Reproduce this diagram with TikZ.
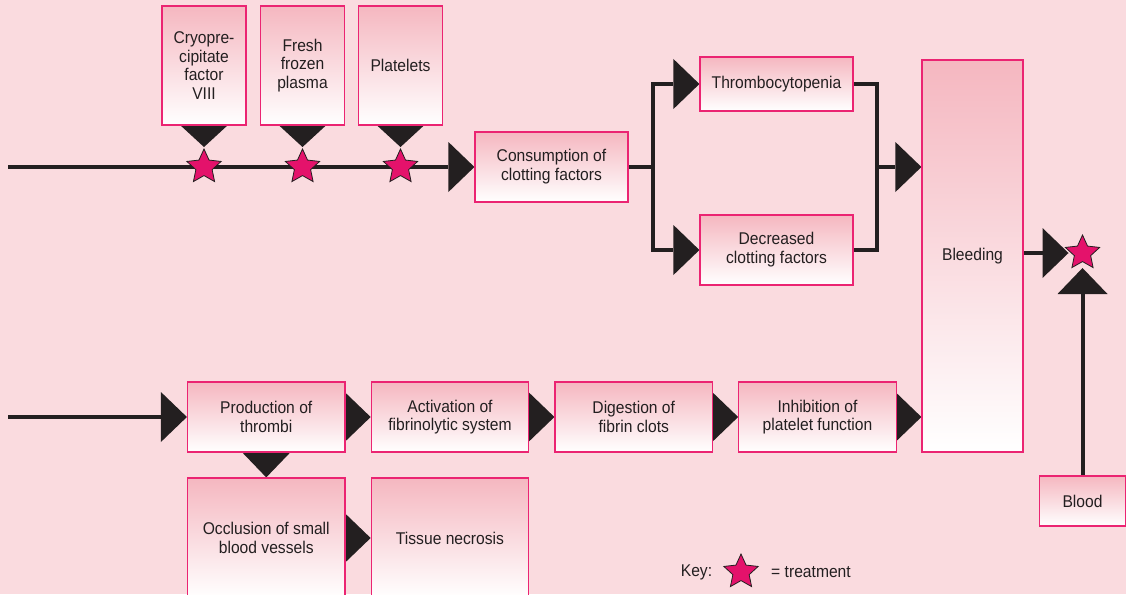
\documentclass[tikz,border=0pt]{standalone}
\usepackage{fontspec}
\setmainfont[FakeStretch=0.92]{Liberation Sans}
\usepackage{xcolor}
\usetikzlibrary{arrows.meta, shapes.geometric, calc, backgrounds}

\definecolor{bgpink}{HTML}{FADBDF}
\definecolor{boxtop}{HTML}{F5B7C0}
\definecolor{boxline}{HTML}{EB2472}
\definecolor{starred}{HTML}{E4126B}
\definecolor{ink}{HTML}{231F20}

\tikzset{box/.style={draw=boxline, line width=1.2pt, top color=boxtop, bottom color=white, align=center, inner sep=0pt},
flow/.style={draw=ink, line width=4pt},
%big black triangles at the end of each connector
flowtip/.style={flow, -{Triangle[length=26pt, width=50pt, line width=0pt]}},
droptip/.style={flow, -{Triangle[length=23pt, width=50pt, line width=0pt]}},
treat/.style={star, star points=5, star point ratio=2.1, minimum size=36pt, inner sep=0pt, fill=starred, draw=ink, line width=0.8pt}}

\begin{document}
\begin{tikzpicture}[x=1pt, y=-1pt, text=ink, font=\fontsize{17}{18.8}\selectfont]
 \useasboundingbox (0,0) rectangle (1126,594);

 %Treatment boxes
 \node[box, minimum width=84pt, minimum height=119pt] (cryo) at (204,65.5) {Cryopre-\\cipitate\\factor\\VIII};
 \node[box, minimum width=84pt, minimum height=119pt] (ffp) at (302.5,65.5) {Fresh\\frozen\\plasma};
 \node[box, minimum width=84pt, minimum height=119pt] (plt) at (400.5,65.5) {Platelets};

 \node[treat] (s1) at (204,167) {};
 \node[treat] (s2) at (302.5,167) {};
 \node[treat] (s3) at (400.5,167) {};

 %Upper branch
 \node[box, minimum width=153pt, minimum height=70pt] (cons) at (551.5,167) {Consumption of\\clotting factors};
 \node[box, minimum width=153pt, minimum height=54pt] (thr) at (776.5,84) {Thrombocytopenia};
 \node[box, minimum width=153pt, minimum height=70pt] (dec) at (776.5,250) {Decreased\\clotting factors};
 \node[box, minimum width=101pt, minimum height=392pt] (bleed) at (972.5,256) {Bleeding};
 \node[box, minimum width=86pt, minimum height=50pt] (blood) at (1082.5,501) {Blood};
 \node[treat] (fin) at (1082.5,253) {};

 %Lower branch
 \node[box, minimum width=157.5pt, minimum height=70pt] (prod) at (266.25,417) {Production of\\thrombi};
 \node[box, minimum width=157.5pt, minimum height=70pt] (fibr) at (450,417) {Activation of\\fibrinolytic system};
 \node[box, minimum width=157.5pt, minimum height=70pt] (dig) at (633.75,417) {Digestion of\\fibrin clots};
 \node[box, minimum width=157.5pt, minimum height=70pt] (inh) at (817.5,417) {Inhibition of\\platelet function};
 \node[box, minimum width=157.5pt, minimum height=120pt] (occl) at (266.25,538) {Occlusion of small\\blood vessels};
 \node[box, minimum width=157.5pt, minimum height=120pt] (necr) at (450,538) {Tissue necrosis};

 %Key
 \node (keylabel) at (696.5,572) {Key:};
 \node[treat] (keystar) at (741,572) {};
 \node (keytext) at (811,572) {= treatment};

 \begin{scope}[on background layer]
 \fill[bgpink] (0,0) rectangle (1126,594);

 %Drawing connectors
 \coordinate (in1) at (8,167);
 \coordinate (in2) at (8,417);
 \coordinate (split) at (653,167);
 \coordinate (merge) at (877,167);

 \draw[flowtip] (in1) -- (cons.west);
 \draw[droptip] (cryo) -- ([yshift=1pt]s1.north);
 \draw[droptip] (ffp) -- ([yshift=1pt]s2.north);
 \draw[droptip] (plt) -- ([yshift=1pt]s3.north);

 \draw[flow] (cons.east) -- (split);
 \draw[flowtip] (split) |- (thr.west);
 \draw[flowtip] (split) |- (dec.west);
 \draw[flow] (thr.east) -| (merge) |- (dec.east);
 \draw[flowtip] (merge) -- (bleed.west |- merge);

 \draw[flowtip] (bleed.east |- fin) -- ([xshift=-14pt]fin.center);
 \draw[flowtip] (blood.north) -- ([yshift=-15pt]fin.center);

 \draw[flowtip] (in2) -- (prod.west);
 \draw[flowtip] (prod) -- (fibr.west);
 \draw[flowtip] (fibr) -- (dig.west);
 \draw[flowtip] (dig) -- (inh.west);
 \draw[flowtip] (inh) -- (bleed.west |- inh.east);
 \draw[flowtip] (prod) -- (occl.north);
 \draw[flowtip] (occl) -- (necr.west);
 \end{scope}

\end{tikzpicture}
\end{document}
